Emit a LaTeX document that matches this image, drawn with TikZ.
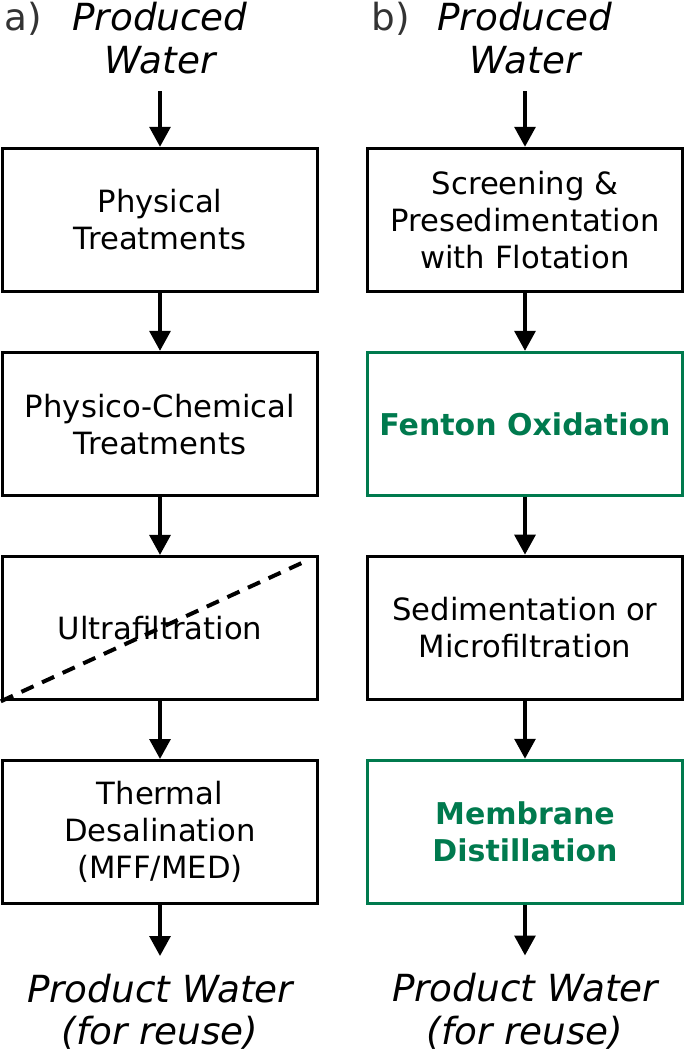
\documentclass[tikz,border=0pt]{standalone}
\usepackage{fontspec}
\setmainfont{DejaVu Sans}
\usetikzlibrary{positioning}
\usetikzlibrary{arrows.meta}
\definecolor{fentongreen}{RGB}{0,122,78}

\begin{document}
\begin{tikzpicture}[
                x=0.75pt, y=-0.75pt,
                node distance=43.3pt,
                line width=2.5pt,
                stage/.style={
                        draw,
                        rectangle,
                        minimum width=236.25pt,
                        minimum height=107.25pt,
                        align=center,
                        font=\fontsize{23}{27.75}\selectfont
                    },
                newstage/.style={
                        stage,
                        draw=fentongreen,
                        line width=2.3pt,
                        text=fentongreen,
                        font=\fontsize{22.5}{27.75}\selectfont\bfseries
                    },
                waternode/.style={
                        align=center,
                        inner sep=12pt,
                        font=\fontsize{28}{32}\selectfont\itshape
                    },
                panel/.style={
                        inner sep=0pt,
                        anchor=base west,
                        text=black!80,
                        font=\fontsize{28}{32}\selectfont
                    },
                flow/.style={line width=3pt, -{Triangle[length=15pt,width=15.5pt]}}
            ]
            \useasboundingbox (0,0) rectangle (685,1053);

            % Column a)
            \node[panel] (Alabel) at (3,30) {a)};
            \node[waternode] (Ain) at (160,38) {Produced\\Water};
            \node[stage] (A1) at (160,220) {Physical\\Treatments};
            \node[stage, below=of A1] (A2) {Physico-Chemical\\Treatments};
            \node[stage, below=of A2] (A3) {Ultrafiltration};
            \node[stage, below=of A3] (A4) {Thermal\\Desalination\\(MFF/MED)};
            \node[waternode, below=38pt of A4] (Aout) {Product Water\\(for reuse)};

            % Column b)
            \node[panel] (Blabel) at (370,30) {b)};
            \node[waternode] (Bin) at (525,38) {Produced\\Water};
            \node[stage] (B1) at (525,220) {Screening \&\\Presedimentation\\with Flotation};
            \node[newstage, below=of B1] (B2) {Fenton Oxidation};
            \node[stage, below=of B2] (B3) {Sedimentation or\\Microfiltration};
            \node[newstage, below=of B3] (B4) {Membrane\\Distillation};
            \node[waternode, below=38pt of B4] (Bout) {Product Water\\(for reuse)};

            % Arrows down each column
            \foreach \from/\to in {Ain/A1, A1/A2, A2/A3, A3/A4, A4/Aout,
                                   Bin/B1, B1/B2, B2/B3, B3/B4, B4/Bout}
                \draw[flow] (\from) -- (\to);

            % Ultrafiltration struck out
            \draw[line width=3pt, dash pattern=on 10pt off 7pt, shorten >=8pt] (A3.south west) -- (A3.north east);

        \end{tikzpicture}
\end{document}
